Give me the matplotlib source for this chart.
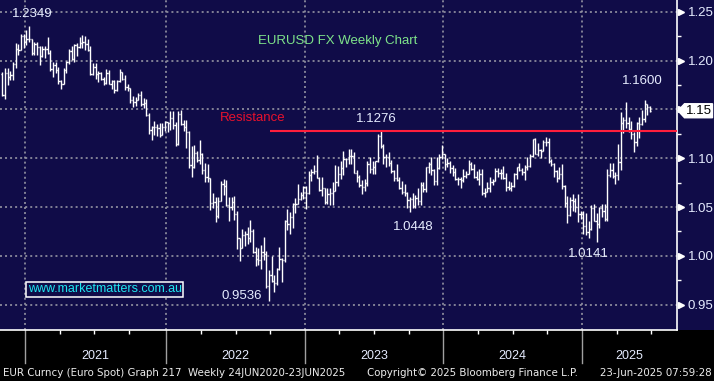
import matplotlib
matplotlib.use("Agg")
import matplotlib.pyplot as plt
import matplotlib.transforms as mtransforms
from matplotlib.patches import Polygon, Rectangle
import numpy as np

# EURUSD weekly bars (week ending Fri), 30-Oct-2020 .. 23-Jun-2025
# open of each bar = previous close
first_open = 1.1860
closes = [
    # 2020
    1.1647, 1.1875, 1.1833, 1.1857, 1.1962, 1.2121, 1.2111, 1.2255, 1.2188,
    # 2021
    1.2216, 1.2219, 1.2079, 1.2170, 1.2136, 1.2046, 1.2119, 1.2120, 1.2073, 1.1915,
    1.1952, 1.1904, 1.1794, 1.1763, 1.1900, 1.1983, 1.2097, 1.2020, 1.2164, 1.2142,
    1.2180, 1.2193, 1.2166, 1.2107, 1.1864, 1.1936, 1.1865, 1.1875, 1.1808, 1.1771,
    1.1870, 1.1762, 1.1795, 1.1697, 1.1795, 1.1879, 1.1813, 1.1725, 1.1720, 1.1596,
    1.1572, 1.1601, 1.1643, 1.1560, 1.1567, 1.1446, 1.1291, 1.1318, 1.1317, 1.1314,
    1.1239, 1.1321, 1.1370,
    # 2022
    1.1359, 1.1412, 1.1344, 1.1146, 1.1450, 1.1349, 1.1322, 1.1270, 1.0929, 1.0912,
    1.1050, 1.0984, 1.1045, 1.0876, 1.0808, 1.0795, 1.0545, 1.0552, 1.0410, 1.0564,
    1.0733, 1.0719, 1.0518, 1.0497, 1.0554, 1.0425, 1.0183, 1.0082, 1.0211, 1.0225,
    1.0180, 1.0258, 1.0039, 0.9965, 0.9953, 1.0044, 1.0016, 0.9690, 0.9802, 0.9741,
    0.9722, 0.9861, 0.9965, 0.9960, 1.0355, 1.0325, 1.0396, 1.0535, 1.0530, 1.0586,
    1.0619, 1.0705,
    # 2023
    1.0644, 1.0832, 1.0855, 1.0868, 1.0796, 1.0677, 1.0694, 1.0547, 1.0635, 1.0640,
    1.0669, 1.0760, 1.0839, 1.0901, 1.0992, 1.0991, 1.1019, 1.1019, 1.0850, 1.0806,
    1.0722, 1.0708, 1.0749, 1.0940, 1.0894, 1.0910, 1.0968, 1.1228, 1.1124, 1.1015,
    1.1008, 1.0946, 1.0872, 1.0795, 1.0775, 1.0700, 1.0658, 1.0645, 1.0573, 1.0587,
    1.0512, 1.0594, 1.0565, 1.0729, 1.0683, 1.0912, 1.0940, 1.0883, 1.0762, 1.0896,
    1.1012, 1.1039,
    # 2024
    1.0941, 1.0951, 1.0897, 1.0855, 1.0788, 1.0784, 1.0777, 1.0820, 1.0838, 1.0938,
    1.0888, 1.0808, 1.0790, 1.0837, 1.0643, 1.0656, 1.0693, 1.0761, 1.0771, 1.0869,
    1.0847, 1.0848, 1.0801, 1.0701, 1.0692, 1.0713, 1.0840, 1.0907, 1.0882, 1.0857,
    1.0910, 1.0917, 1.1027, 1.1192, 1.1047, 1.1085, 1.1076, 1.1163, 1.1164, 1.0974,
    1.0937, 1.0867, 1.0797, 1.0834, 1.0719, 1.0541, 1.0418, 1.0577, 1.0566, 1.0501,
    1.0431, 1.0427,
    # 2025
    1.0307, 1.0244, 1.0272, 1.0494, 1.0362, 1.0329, 1.0491, 1.0459, 1.0376, 1.0833,
    1.0880, 1.0816, 1.0829, 1.0962, 1.1357, 1.1394, 1.1365, 1.1298, 1.1253, 1.1164,
    1.1364, 1.1347, 1.1397, 1.1551, 1.1523, 1.1486,
]
highs = [
    # 2020
    1.1880, 1.1920, 1.1920, 1.1895, 1.1990, 1.2177, 1.2165, 1.2273, 1.2272,
    # 2021
    1.2310, 1.2349, 1.2220, 1.2190, 1.2190, 1.2150, 1.2150, 1.2145, 1.2243, 1.2110,
    1.1990, 1.1990, 1.1930, 1.1800, 1.1926, 1.1995, 1.2117, 1.2150, 1.2170, 1.2180,
    1.2245, 1.2266, 1.2254, 1.2218, 1.2145, 1.1975, 1.1975, 1.1895, 1.1880, 1.1830,
    1.1909, 1.1900, 1.1800, 1.1805, 1.1805, 1.1909, 1.1885, 1.1850, 1.1755, 1.1720,
    1.1640, 1.1625, 1.1669, 1.1692, 1.1616, 1.1609, 1.1465, 1.1330, 1.1383, 1.1355,
    1.1360, 1.1361, 1.1386,
    # 2022
    1.1375, 1.1483, 1.1482, 1.1369, 1.1483, 1.1495, 1.1395, 1.1390, 1.1275, 1.1121,
    1.1137, 1.1070, 1.1185, 1.1050, 1.0955, 1.0936, 1.0800, 1.0642, 1.0600, 1.0607,
    1.0765, 1.0787, 1.0774, 1.0601, 1.0606, 1.0615, 1.0463, 1.0186, 1.0279, 1.0254,
    1.0294, 1.0369, 1.0280, 1.0090, 1.0079, 1.0113, 1.0198, 1.0050, 0.9853, 0.9999,
    0.9809, 0.9874, 1.0094, 0.9976, 1.0366, 1.0481, 1.0448, 1.0545, 1.0595, 1.0737,
    1.0658, 1.0714,
    # 2023
    1.0713, 1.0868, 1.0887, 1.0929, 1.1033, 1.0805, 1.0805, 1.0700, 1.0691, 1.0694,
    1.0760, 1.0930, 1.0925, 1.0973, 1.1075, 1.1000, 1.1095, 1.1092, 1.1068, 1.0877,
    1.0830, 1.0779, 1.0786, 1.0971, 1.1012, 1.0976, 1.0975, 1.1245, 1.1276, 1.1150,
    1.1043, 1.1065, 1.0985, 1.0875, 1.0945, 1.0810, 1.0770, 1.0737, 1.0651, 1.0600,
    1.0640, 1.0624, 1.0695, 1.0756, 1.0755, 1.0913, 1.0965, 1.1017, 1.0894, 1.1009,
    1.1040, 1.1140,
    # 2024
    1.1046, 1.1000, 1.0975, 1.0933, 1.0897, 1.0808, 1.0806, 1.0888, 1.0866, 1.0981,
    1.0964, 1.0942, 1.0865, 1.0885, 1.0885, 1.0690, 1.0752, 1.0812, 1.0791, 1.0895,
    1.0895, 1.0889, 1.0916, 1.0852, 1.0762, 1.0761, 1.0845, 1.0910, 1.0948, 1.0900,
    1.0930, 1.1008, 1.1047, 1.1201, 1.1202, 1.1155, 1.1090, 1.1189, 1.1214, 1.1209,
    1.0996, 1.0954, 1.0875, 1.0905, 1.0937, 1.0728, 1.0609, 1.0598, 1.0630, 1.0595,
    1.0630, 1.0456,
    # 2025
    1.0456, 1.0437, 1.0354, 1.0522, 1.0533, 1.0443, 1.0505, 1.0528, 1.0529, 1.0888,
    1.0947, 1.0955, 1.0860, 1.1144, 1.1474, 1.1424, 1.1573, 1.1424, 1.1381, 1.1266,
    1.1375, 1.1419, 1.1495, 1.1600, 1.1560, 1.1530,
]
lows = [
    # 2020
    1.1640, 1.1603, 1.1745, 1.1800, 1.1800, 1.1925, 1.2060, 1.2110, 1.2130,
    # 2021
    1.2160, 1.2190, 1.2055, 1.2060, 1.2060, 1.1952, 1.2040, 1.2023, 1.2065, 1.1895,
    1.1835, 1.1875, 1.1762, 1.1704, 1.1760, 1.1870, 1.1960, 1.2010, 1.1986, 1.2051,
    1.2130, 1.2133, 1.2104, 1.2094, 1.1847, 1.1848, 1.1807, 1.1782, 1.1800, 1.1752,
    1.1760, 1.1755, 1.1706, 1.1664, 1.1690, 1.1780, 1.1801, 1.1700, 1.1685, 1.1563,
    1.1529, 1.1535, 1.1595, 1.1535, 1.1513, 1.1433, 1.1250, 1.1186, 1.1235, 1.1228,
    1.1222, 1.1235, 1.1280,
    # 2022
    1.1272, 1.1285, 1.1300, 1.1121, 1.1140, 1.1340, 1.1280, 1.1106, 1.0900, 1.0806,
    1.0900, 1.0960, 1.0945, 1.0837, 1.0757, 1.0760, 1.0470, 1.0493, 1.0350, 1.0390,
    1.0560, 1.0627, 1.0510, 1.0359, 1.0470, 1.0366, 1.0072, 0.9952, 1.0080, 1.0097,
    1.0124, 1.0143, 1.0033, 0.9900, 0.9910, 0.9864, 0.9956, 0.9669, 0.9536, 0.9730,
    0.9632, 0.9705, 0.9853, 0.9730, 0.9936, 1.0270, 1.0223, 1.0290, 1.0444, 1.0530,
    1.0573, 1.0581,
    # 2023
    1.0483, 1.0637, 1.0766, 1.0835, 1.0794, 1.0669, 1.0613, 1.0533, 1.0533, 1.0524,
    1.0516, 1.0660, 1.0711, 1.0788, 1.0830, 1.0910, 1.0942, 1.0941, 1.0848, 1.0760,
    1.0702, 1.0635, 1.0662, 1.0712, 1.0844, 1.0835, 1.0834, 1.0960, 1.1104, 1.0943,
    1.0912, 1.0920, 1.0845, 1.0766, 1.0771, 1.0686, 1.0632, 1.0617, 1.0488, 1.0448,
    1.0495, 1.0495, 1.0520, 1.0517, 1.0656, 1.0656, 1.0852, 1.0828, 1.0723, 1.0724,
    1.0888, 1.0987,
    # 2024
    1.0877, 1.0910, 1.0844, 1.0822, 1.0779, 1.0722, 1.0695, 1.0761, 1.0796, 1.0836,
    1.0876, 1.0802, 1.0777, 1.0724, 1.0622, 1.0601, 1.0656, 1.0650, 1.0724, 1.0765,
    1.0805, 1.0788, 1.0790, 1.0668, 1.0671, 1.0666, 1.0710, 1.0790, 1.0872, 1.0825,
    1.0777, 1.0880, 1.0905, 1.1017, 1.1040, 1.1026, 1.1002, 1.1069, 1.1120, 1.0954,
    1.0916, 1.0811, 1.0761, 1.0790, 1.0682, 1.0496, 1.0333, 1.0410, 1.0460, 1.0452,
    1.0343, 1.0380,
    # 2025
    1.0226, 1.0215, 1.0178, 1.0266, 1.0359, 1.0141, 1.0285, 1.0401, 1.0360, 1.0360,
    1.0804, 1.0797, 1.0733, 1.0778, 1.0881, 1.1263, 1.1310, 1.1266, 1.1193, 1.1065,
    1.1130, 1.1210, 1.1343, 1.1370, 1.1446, 1.1471,
]

years = ["2021", "2022", "2023", "2024", "2025"]
year_first_bar = [9, 62, 114, 166, 218]   # index of first weekly bar in each year
price_ticks = [0.95, 1.00, 1.05, 1.10, 1.15, 1.20, 1.25]
last_price_label = "1.15"
resistance = 1.1276

NAVY = "#100c48"
TXT = "#e6ecff"
plt.rcParams["font.family"] = ["Liberation Sans", "DejaVu Sans"]

n = len(closes)
x = np.arange(n)
opens = [first_open] + closes[:-1]
xmin, xmax = -0.9, 253.0

fig = plt.figure(figsize=(7.14, 3.81), dpi=100, facecolor="black")
ax_w, ax_b, ax_h = 676.5 / 714, 51 / 381, 330 / 381
# navy strip behind the right price scale
fig.patches.append(Rectangle((ax_w, ax_b), 1 - ax_w, ax_h, transform=fig.transFigure,
                             facecolor=NAVY, edgecolor="none", zorder=-5))
ax = fig.add_axes([0, ax_b, ax_w, ax_h])
ax.set_facecolor(NAVY)
ax.set_xlim(xmin, xmax)
ax.set_ylim(0.9241, 1.262)

# dotted grid
gkw = dict(color="#a0a0aa", lw=1.1, ls=(0, (1.3, 2.0)), zorder=1)
for p in price_ticks:
    ax.axhline(p, **gkw)
bounds = [b - 0.5 for b in year_first_bar]
for b in bounds:
    ax.axvline(b, **gkw)

# OHLC bars
ax.vlines(x, lows, highs, color="white", lw=1.0, zorder=3)
ax.hlines(opens, x - 0.45, x, color="white", lw=1.0, zorder=3)
ax.hlines(closes, x, x + 0.45, color="white", lw=1.0, zorder=3)

# resistance line
ax.hlines(resistance, 100.4, xmax, color="#ff1e3c", lw=1.5, zorder=4)

for s in ["top", "left"]:
    ax.spines[s].set_visible(False)
for s in ["right", "bottom"]:
    ax.spines[s].set_color("white")
    ax.spines[s].set_linewidth(1.2)

# right price axis
ax.yaxis.tick_right()
ax.set_yticks(price_ticks)
ax.set_yticklabels(["" if f"{p:.2f}" == last_price_label else f"{p:.2f}" for p in price_ticks])
ax.set_yticks(np.arange(0.975, 1.26, 0.05), minor=True)
ax.tick_params(axis="y", which="major", length=0, pad=8, labelcolor=TXT, labelsize=9.5)
ax.tick_params(axis="y", which="minor", length=3, width=1, color="white")
ty = mtransforms.blended_transform_factory(ax.transAxes, ax.transData)
ax.plot([1 + 4.5 / 676.5] * len(price_ticks), price_ticks, ls="none", marker=">",
        ms=4.5, color="white", transform=ty, clip_on=False, zorder=5)

# last price flag
lp = closes[-1]
hh = 7 * 0.05 / 48.83
px = 1 / 676.5
flag = Polygon([(1 + 1.5 * px, lp), (1 + 8 * px, lp + hh), (1 + 36 * px, lp + hh),
                (1 + 36 * px, lp - hh), (1 + 8 * px, lp - hh)], closed=True,
               transform=ty, facecolor="white", edgecolor="white", clip_on=False, zorder=6)
ax.add_patch(flag)
ax.text(1 + 22 * px, lp, last_price_label, transform=ty, ha="center", va="center",
        fontsize=9.5, color="black", zorder=7, clip_on=False)

# bottom time axis
ax.set_xticks(bounds)
ax.set_xticklabels([])
ax.tick_params(axis="x", which="major", length=0)
minor = [b + q for b in bounds for q in (13, 26, 39) if b + q < xmax]
ax.set_xticks(minor, minor=True)
ax.tick_params(axis="x", which="minor", length=3, width=1, color="white")
tx = mtransforms.blended_transform_factory(ax.transData, ax.transAxes)
for b in bounds:
    ax.plot([b, b], [0, -33 / 330], color="#a0a0a0", lw=1, transform=tx, clip_on=False)
edges = bounds + [xmax]
for i, yr in enumerate(years):
    ax.text((edges[i] + edges[i + 1]) / 2, -26 / 330, yr, transform=tx, ha="center",
            va="center", color=TXT, fontsize=9)

# annotations
ax.text(11.1, 1.2476, f"{max(highs):.4f}", color=TXT, fontsize=9.5, ha="center", va="center")
ax.text(125.8, 1.2200, "EURUSD FX Weekly Chart", color="#7ee38a", fontsize=9.5,
        ha="center", va="center")
ax.text(93.9, 1.1412, "Resistance", color="#e8112d", fontsize=9.5, ha="center", va="center")
ax.text(140.2, 1.1401, f"{resistance:.4f}", color=TXT, fontsize=9.5, ha="center", va="center")
ax.text(240.0, 1.1790, f"{max(highs[218:]):.4f}", color=TXT, fontsize=9.5, ha="center", va="center")
ax.text(154.1, 1.0296, f"{min(lows[114:166]):.4f}", color=TXT, fontsize=9.5, ha="center", va="center")
ax.text(220.0, 1.0019, f"{min(lows[218:]):.4f}", color=TXT, fontsize=9.5, ha="center", va="center")
ax.text(89.9, 0.9589, f"{min(lows):.4f}", color=TXT, fontsize=9.5, ha="center", va="center")
ax.text(38.5, 0.9657, "www.marketmatters.com.au", color="#1ee6f0", fontsize=9, ha="center",
        va="center", bbox=dict(boxstyle="square,pad=0.12", fc=NAVY, ec="white", lw=1.1))

# footer
fkw = dict(color="#ececec", fontsize=7.4, family="DejaVu Sans", va="center")
fig.text(3 / 714, 8 / 381, "EUR Curncy (Euro Spot) Graph 217  Weekly 24JUN2020-23JUN2025", **fkw)
fig.text(367 / 714, 8 / 381, "Copyright\u00a9 2025 Bloomberg Finance L.P.", **fkw)
fig.text(712 / 714, 8 / 381, "23-Jun-2025 07:59:28", ha="right", **fkw)

fig.savefig("out.png", dpi=100, facecolor="black")
